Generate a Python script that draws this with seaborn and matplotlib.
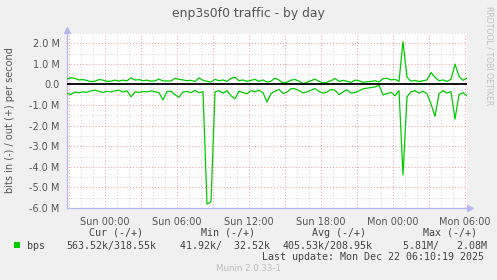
import numpy as np
import pandas as pd
import matplotlib
matplotlib.use("Agg")
import matplotlib.pyplot as plt
import matplotlib.transforms as mtrans
from matplotlib.patches import Rectangle
import seaborn as sns

sns.set_style("white")
plt.rcParams["font.family"] = ["DejaVu Sans"]

# ---------------- data (Mbit/s, 20-minute samples) ----------------
start_time = "2025-12-20 20:50"
sample_step = "20min"
view_end = "2025-12-22 06:10"

out_mbps = [
    0.26, 0.33, 0.29, 0.22, 0.24, 0.19, 0.14, 0.16, 0.24, 0.21, 0.15, 0.16, 0.21,
    0.16, 0.21, 0.18, 0.32, 0.21, 0.24, 0.18, 0.21, 0.16, 0.18, 0.26, 0.17, 0.17,
    0.17, 0.30, 0.25, 0.22, 0.18, 0.20, 0.15, 0.32, 0.20, 0.15, 0.12, 0.25, 0.18,
    0.22, 0.15, 0.30, 0.35, 0.18, 0.22, 0.15, 0.20, 0.25, 0.15, 0.22, 0.12,
    0.16, 0.31, 0.21, 0.08, 0.11, 0.21, 0.24, 0.16, 0.04, 0.11, 0.18, 0.26, 0.15,
    0.08, 0.11, 0.18, 0.29, 0.15, 0.20, 0.16, 0.10, 0.21, 0.18, 0.11, 0.13,
    0.15, 0.18, 0.12, 0.28, 0.30, 0.22, 0.25, 0.15, 2.08, 0.35, 0.16, 0.20, 0.14,
    0.18, 0.22, 0.58, 0.35, 0.18, 0.22, 0.15, 0.25, 0.99, 0.40, 0.20, 0.32,
]
in_mbps = [
    0.44, 0.48, 0.37, 0.40, 0.36, 0.38, 0.31, 0.28, 0.33, 0.39, 0.33, 0.36, 0.31,
    0.28, 0.36, 0.31, 0.60, 0.36, 0.39, 0.34, 0.36, 0.31, 0.35, 0.40, 0.75, 0.34,
    0.33, 0.50, 0.62, 0.36, 0.34, 0.40, 0.28, 0.40, 0.35, 5.81, 5.70, 0.36, 0.30,
    0.42, 0.30, 0.55, 0.70, 0.32, 0.40, 0.45, 0.30, 0.35, 0.28, 0.40, 0.85,
    0.44, 0.33, 0.24, 0.44, 0.37, 0.20, 0.21, 0.29, 0.41, 0.36, 0.28, 0.20, 0.34,
    0.42, 0.37, 0.24, 0.28, 0.50, 0.36, 0.26, 0.42, 0.39, 0.31, 0.21, 0.18,
    0.15, 0.12, 0.04, 0.50, 0.45, 0.38, 0.55, 0.30, 4.40, 0.60, 0.36, 0.30, 0.42,
    0.33, 0.45, 0.95, 1.55, 0.45, 0.30, 0.42, 0.35, 1.68, 0.50, 0.40, 0.56,
]

y_ticks = [-6, -5, -4, -3, -2, -1, 0, 1, 2]
y_tick_labels = ["-6.0 M", "-5.0 M", "-4.0 M", "-3.0 M", "-2.0 M", "-1.0 M",
                 "0.0", "1.0 M", "2.0 M"]
x_tick_times = ["2025-12-20 21:00", "2025-12-21 00:00", "2025-12-21 03:00",
                "2025-12-21 06:00", "2025-12-21 09:00", "2025-12-21 12:00",
                "2025-12-21 15:00", "2025-12-21 18:00", "2025-12-21 21:00",
                "2025-12-22 00:00", "2025-12-22 03:00", "2025-12-22 06:00"]
x_tick_labels = ["", "Sun 00:00", "", "Sun 06:00", "", "Sun 12:00", "",
                 "Sun 18:00", "", "Mon 00:00", "", "Mon 06:00"]

title = "enp3s0f0 traffic - by day"
y_label = "bits in (-) / out (+) per second"
legend_headers = ["Cur (-/+)", "Min (-/+)", "Avg (-/+)", "Max (-/+)"]
legend_values = ["563.52k/318.55k", "41.92k/  32.52k", "405.53k/208.95k", "5.81M/   2.08M"]
series_name = "bps"
last_update = "Last update: Mon Dec 22 06:10:19 2025"
footer = "Munin 2.0.33-1"
side_text = "RRDTOOL / TOBI OETIKER"

# ---------------- figure ----------------
W, H = 497, 280
GREEN = "#00CC00"
TXT = "#555555"

times = pd.date_range(start_time, periods=len(out_mbps), freq=sample_step)
df = pd.DataFrame({"time": times,
                   "out": out_mbps,
                   "in": [-v for v in in_mbps]})

fig = plt.figure(figsize=(W / 100, H / 100), dpi=100, facecolor="#F0F0F0")
ax = fig.add_axes([67 / W, 72 / H, 400 / W, 175 / H])
ax.set_facecolor("white")

ax.set_xlim(pd.Timestamp(start_time), pd.Timestamp(view_end))
ax.set_ylim(-6.0, 2.5)

# grid
minor_x = pd.date_range("2025-12-20 21:00", view_end, freq="1h")
ax.set_xticks(pd.to_datetime(minor_x), minor=True)
ax.set_xticks(pd.to_datetime(x_tick_times))
ax.set_xticklabels(x_tick_labels)
ax.set_yticks(y_ticks)
ax.set_yticklabels(y_tick_labels)
ax.set_yticks([-5.5, -4.5, -3.5, -2.5, -1.5, -0.5, 0.5, 1.5, 2.5], minor=True)

ax.grid(which="minor", color="#d9d9d9", linestyle=(0, (1, 2)), linewidth=0.75, zorder=0)
ax.grid(which="major", color="#f2a0a0", linestyle=(0, (1, 2)), linewidth=0.75, zorder=0)
ax.set_axisbelow(True)

ax.tick_params(axis="both", which="major", length=2.2, width=0.7, color="#f09090",
               labelsize=7, labelcolor=TXT, pad=3)
ax.tick_params(axis="both", which="minor", length=0)
ax.tick_params(axis="x", pad=4)

for s in ["top", "right"]:
    ax.spines[s].set_visible(False)
for s in ["left", "bottom"]:
    ax.spines[s].set_color("#b8b8f0")
    ax.spines[s].set_linewidth(0.9)

# data
sns.lineplot(data=df, x="time", y="out", color=GREEN, linewidth=0.9, ax=ax, zorder=3)
sns.lineplot(data=df, x="time", y="in", color=GREEN, linewidth=0.9, ax=ax, zorder=3)
ax.axhline(0, color="black", linewidth=1.3, zorder=4)
ax.set_xlabel("")
ax.set_ylabel("")

# axis arrows
up = mtrans.offset_copy(ax.transAxes, fig=fig, x=0, y=3, units="dots")
ax.plot([0], [1], marker="^", color="#b8b8f0", markersize=4, transform=up, clip_on=False)
right = mtrans.offset_copy(ax.transAxes, fig=fig, x=3, y=0, units="dots")
ax.plot([1], [0], marker=">", color="#b8b8f0", markersize=4, transform=right, clip_on=False)


def px(x, y):
    return x / W, 1 - y / H


fig.text(*px(248, 14), title, ha="center", va="center", fontsize=8.9, color=TXT)
fig.text(*px(10, 120), y_label, rotation=90, ha="center", va="center", fontsize=7, color=TXT)
fig.text(*px(489, 6), side_text, rotation=270, ha="center", va="top", fontsize=5.6,
         color="#c0c0c0")

mono = dict(family="DejaVu Sans Mono", fontsize=7.2, color="#444444", va="center")
header_centers = [116, 228, 339, 450]
for cx, h in zip(header_centers, legend_headers):
    fig.text(*px(cx, 232.5), h, ha="center", **mono)
value_lefts = [66.5, 180, 283, 403]
for lx, v in zip(value_lefts, legend_values):
    fig.text(*px(lx, 246), v, ha="left", **mono)
fig.text(*px(26.5, 246), series_name, ha="left", **mono)
fig.patches.append(Rectangle(px(14, 248.3), 6 / W, 6 / H, transform=fig.transFigure,
                             facecolor=GREEN, edgecolor="none"))
fig.text(*px(483.5, 257.5), last_update, ha="right", **mono)
fig.text(*px(248, 268.5), footer, ha="center", va="center", fontsize=6.2, color="#bbbbbb")

fig.savefig("out.png", dpi=100, facecolor=fig.get_facecolor())
